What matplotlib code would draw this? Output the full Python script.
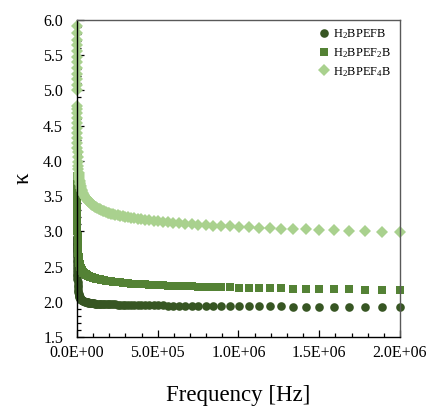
import matplotlib
matplotlib.use("Agg")
import matplotlib.pyplot as plt
from matplotlib.ticker import MultipleLocator, FuncFormatter

plt.rcParams['font.family'] = ['Liberation Serif', 'DejaVu Serif']
plt.rcParams['mathtext.fontset'] = 'custom'
plt.rcParams['mathtext.rm'] = 'Liberation Serif'
plt.rcParams['mathtext.it'] = 'Liberation Serif:italic'

# Frequency sweep (Hz)
freq_hz = [
    2000000, 1888000, 1783000, 1683000, 1589000, 1500000, 1416000, 1337000, 1262000, 1192000, 1125000, 1062000, 1002000,
    946000, 893000, 843000, 796000, 752000, 710000, 670000, 632000, 597000, 564000, 532000, 502000,
    474000, 448000, 423000, 399000, 377000, 356000, 336000, 317000, 299000, 283000, 267000, 252000,
    238000, 224000, 212000, 200000, 189000, 178000, 168000, 159000, 150000, 142000, 134000, 126000, 119000, 112500, 106000, 100000,
    94600, 89300, 84300, 79600, 75200, 71000, 67000, 63200, 59700, 56400, 53200, 50200,
    44700, 39900, 35600, 31700, 28300, 25200, 22400, 20000, 17800, 15900, 14200, 12600, 11200, 10000,
    8000, 6300, 5000,
    4000, 3200, 2500, 2000, 1600, 1260, 1000, 800, 630, 500, 400, 320, 250, 200, 160, 126, 100, 80, 63, 50, 40, 32, 25, 20,
]

k_bpefb = [
    1.920, 1.922, 1.924, 1.926, 1.928, 1.930, 1.931, 1.932, 1.933, 1.934, 1.935, 1.936, 1.937,
    1.938, 1.939, 1.940, 1.941, 1.942, 1.943, 1.944, 1.945, 1.946, 1.947, 1.948, 1.949,
    1.950, 1.951, 1.952, 1.953, 1.954, 1.955, 1.956, 1.957, 1.958, 1.959, 1.960, 1.961,
    1.962, 1.963, 1.964, 1.965, 1.966, 1.967, 1.968, 1.969, 1.970, 1.971, 1.972, 1.973, 1.974, 1.975, 1.976, 1.977,
    1.979, 1.981, 1.983, 1.985, 1.987, 1.989, 1.991, 1.993, 1.995, 1.997, 1.999, 2.001,
    2.005, 2.010, 2.015, 2.020, 2.025, 2.031, 2.037, 2.045, 2.053, 2.061, 2.071, 2.083, 2.095, 2.110,
    2.140, 2.170, 2.205,
    2.24, 2.28, 2.32, 2.36, 2.40, 2.44, 2.48, 2.52, 2.56, 2.60, 2.63, 2.66, 2.69, 2.72, 2.74, 2.76, 2.78, 2.80, 2.82, 2.84, 2.86, 2.88, 2.90, 2.92,
]

k_bpef2b = [
    2.170, 2.172, 2.174, 2.176, 2.178, 2.180, 2.183, 2.186, 2.189, 2.192, 2.195, 2.198, 2.201,
    2.204, 2.207, 2.210, 2.213, 2.216, 2.219, 2.222, 2.225, 2.228, 2.231, 2.234, 2.237,
    2.240, 2.243, 2.246, 2.249, 2.252, 2.255, 2.258, 2.262, 2.266, 2.270, 2.274, 2.278,
    2.282, 2.286, 2.290, 2.294, 2.298, 2.302, 2.306, 2.310, 2.314, 2.318, 2.322, 2.326, 2.330, 2.334, 2.338, 2.342,
    2.346, 2.350, 2.354, 2.358, 2.362, 2.366, 2.370, 2.375, 2.380, 2.385, 2.390, 2.396,
    2.405, 2.415, 2.425, 2.437, 2.450, 2.465, 2.480, 2.497, 2.515, 2.535, 2.557, 2.580, 2.605, 2.632,
    2.690, 2.750, 2.820,
    2.88, 2.94, 3.01, 3.08, 3.15, 3.22, 3.29, 3.36, 3.43, 3.50, 3.56, 3.62, 3.67, 3.71, 3.74, 3.76, 3.77, 3.78, 3.79, 3.79, 3.79, 3.79, 3.79, 3.79,
]

k_bpef4b = [
    2.990, 2.997, 3.004, 3.010, 3.016, 3.022, 3.028, 3.034, 3.040, 3.046, 3.052, 3.058, 3.064,
    3.070, 3.076, 3.082, 3.088, 3.094, 3.100, 3.106, 3.113, 3.120, 3.127, 3.134, 3.141,
    3.148, 3.155, 3.162, 3.169, 3.176, 3.183, 3.190, 3.197, 3.204, 3.211, 3.218, 3.226,
    3.234, 3.242, 3.250, 3.258, 3.266, 3.275, 3.284, 3.293, 3.302, 3.311, 3.320, 3.330, 3.340, 3.350, 3.360, 3.370,
    3.380, 3.390, 3.400, 3.410, 3.420, 3.430, 3.440, 3.450, 3.460, 3.470, 3.480, 3.490,
    3.510, 3.530, 3.550, 3.570, 3.590, 3.615, 3.640, 3.665, 3.690, 3.715, 3.740, 3.770, 3.800, 3.830,
    3.880, 3.930, 3.980,
    4.05, 4.12, 4.19, 4.26, 4.33, 4.40, 4.47, 4.54, 4.61, 4.68, 4.74, 4.78, 5.00, 5.08, 5.16, 5.24, 5.32, 5.40, 5.48, 5.56, 5.64, 5.72, 5.82, 5.92,
]

labels = ['H$_\\mathregular{2}$BPEFB', 'H$_\\mathregular{2}$BPEF$_\\mathregular{2}$B', 'H$_\\mathregular{2}$BPEF$_\\mathregular{4}$B']
colors = ['#375623', '#548235', '#A9D18E']
markers = ['o', 's', 'D']
msizes = [6.2, 6.4, 6.4]

fig = plt.figure(figsize=(4.31, 4.09), dpi=100)
ax = fig.add_axes([77/431, 1 - 337/409, 323/431, 317/409])

for ys, lab, c, m, ms in zip([k_bpefb, k_bpef2b, k_bpef4b], labels, colors, markers, msizes):
    ax.plot(freq_hz, ys, linestyle='none', marker=m, markersize=ms, color=c,
            markeredgewidth=0, label=lab, clip_on=False)

ax.set_xlim(0, 2.0e6)
ax.set_ylim(1.5, 6.0)
ax.xaxis.set_major_locator(MultipleLocator(5e5))
ax.xaxis.set_minor_locator(MultipleLocator(1e5))
ax.yaxis.set_major_locator(MultipleLocator(0.5))
ax.yaxis.set_minor_locator(MultipleLocator(0.1))
ax.xaxis.set_major_formatter(FuncFormatter(lambda v, p: f"{v:.1E}"))
ax.yaxis.set_major_formatter(FuncFormatter(lambda v, p: f"{v:.1f}"))
ax.tick_params(which='both', direction='in', top=False, right=False, labelsize=11.5, color='black')
ax.tick_params(which='major', length=5, width=0.9)
ax.tick_params(which='minor', length=3, width=0.9)
ax.tick_params(axis='x', pad=6)
ax.tick_params(axis='y', pad=10)

for s in ['left', 'bottom']:
    ax.spines[s].set_color('black')
    ax.spines[s].set_linewidth(1.0)
for s in ['top', 'right']:
    ax.spines[s].set_color('#595959')
    ax.spines[s].set_linewidth(1.0)

ax.set_xlabel('Frequency [Hz]', fontsize=16.5, labelpad=17)
ax.set_ylabel('\u03ba', fontsize=16.5, labelpad=7)

leg = ax.legend(loc='upper right', bbox_to_anchor=(1.0, 1.005), frameon=False, fontsize=9,
                handletextpad=0.1, labelspacing=0.4, handlelength=1.2, borderaxespad=0.3)

fig.savefig('out.png', dpi=100)
